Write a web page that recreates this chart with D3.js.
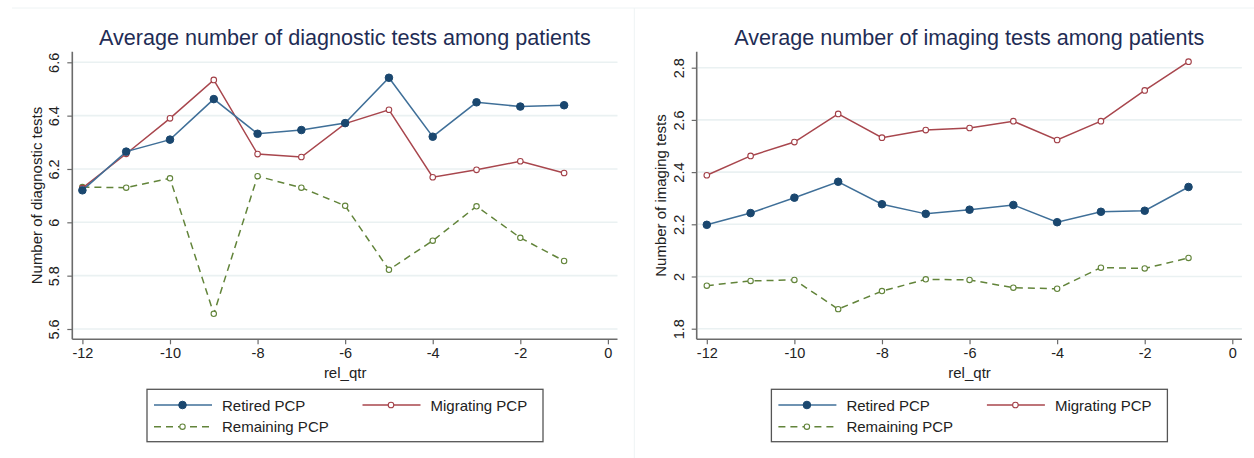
<!DOCTYPE html>
<html>
<head>
<meta charset="utf-8">
<script src="https://cdn.jsdelivr.net/npm/d3@7"></script>
<style>
  body { margin: 0; background: #fff; }
  svg text { font-family: "Liberation Sans", Arial, sans-serif; }
</style>
</head>
<body>
<div id="chart"></div>
<script>
// quarters relative to the event
var quarters = [-12, -11, -10, -9, -8, -7, -6, -5, -4, -3, -2, -1];
var xTicks = [-12, -10, -8, -6, -4, -2, 0];

// diagnostic tests
var diagRetired   = [6.12, 6.265, 6.31, 6.462, 6.332, 6.346, 6.372, 6.542, 6.321, 6.45, 6.434, 6.439];
var diagMigrating = [6.128, 6.257, 6.39, 6.534, 6.256, 6.245, 6.37, 6.422, 6.169, 6.197, 6.229, 6.185];
var diagRemaining = [6.132, 6.13, 6.165, 5.657, 6.173, 6.13, 6.062, 5.822, 5.931, 6.06, 5.942, 5.855];
var diagTicks = [5.6, 5.8, 6, 6.2, 6.4, 6.6];

// imaging tests
var imgRetired   = [2.198, 2.243, 2.302, 2.363, 2.277, 2.24, 2.256, 2.274, 2.208, 2.248, 2.252, 2.343];
var imgMigrating = [2.388, 2.462, 2.515, 2.623, 2.532, 2.561, 2.569, 2.595, 2.523, 2.595, 2.713, 2.823];
var imgRemaining = [1.965, 1.983, 1.987, 1.875, 1.944, 1.989, 1.987, 1.957, 1.953, 2.034, 2.031, 2.071];
var imgTicks = [1.8, 2, 2.2, 2.4, 2.6, 2.8];

var seriesNames = ["Retired PCP", "Migrating PCP", "Remaining PCP"];

var W = 1254, H = 458;

var svg = d3.select("#chart")
  .append("svg")
  .attr("width", W)
  .attr("height", H);

// styles for each series
var styles = [
  { line: "#3f6f98", marker: "#1a476f", fill: "#1a476f", r: 3.8, dash: null, mw: 1 },
  { line: "#a8464d", marker: "#a23f47", fill: "#fff", r: 2.8, dash: null, mw: 1.1 },
  { line: "#62843a", marker: "#62843a", fill: "#fff", r: 2.7, dash: "7,5", mw: 1.1 }
];

function drawPanel(ox, title, ytitle, yTicks, yDom, yRange, series) {
  var g = svg.append("g").attr("transform", "translate(" + ox + ",0)");

  var left = 72.3, right = 617.5, top = 51.7, bottom = 339.3;

  var x = d3.scaleLinear().domain([-12, 0]).range([82.4, 607.9]);
  var y = d3.scaleLinear().domain(yDom).range(yRange);

  // gridlines
  g.selectAll(".grid")
    .data(yTicks)
    .enter()
    .append("line")
    .attr("x1", left + 1)
    .attr("x2", right)
    .attr("y1", function (d) { return y(d); })
    .attr("y2", function (d) { return y(d); })
    .style("stroke", "#eaf1f2")
    .style("stroke-width", 1.6);

  // axes
  var xAxis = g.append("g")
    .attr("transform", "translate(0," + bottom + ")")
    .call(d3.axisBottom(x).tickValues(xTicks).tickSize(5).tickFormat(function (d) { return String(d); }));
  xAxis.select(".domain").attr("d", "M" + left + ",0H" + right);

  var yAxis = g.append("g")
    .attr("transform", "translate(" + left + ",0)")
    .call(d3.axisLeft(y).tickValues(yTicks).tickSize(5).tickFormat(function (d) { return String(d); }));
  yAxis.select(".domain").attr("d", "M0," + top + "V" + bottom);

  [xAxis, yAxis].forEach(function (a) {
    a.select(".domain").style("stroke", "#6b6b6b").style("stroke-width", 1.6);
    a.selectAll(".tick line").style("stroke", "#6b6b6b").style("stroke-width", 1.2);
    a.selectAll(".tick text")
      .style("font-size", "14.5px")
      .style("fill", "#222")
      .style("font-family", "'Liberation Sans', Arial, sans-serif");
  });
  xAxis.selectAll(".tick text").attr("y", 8);

  yAxis.selectAll(".tick text")
    .attr("x", null)
    .attr("dy", null)
    .attr("text-anchor", "middle")
    .attr("transform", "translate(-13,0) rotate(-90)")
    .attr("dy", "0");

  // titles
  g.append("text")
    .attr("x", (left + right) / 2)
    .attr("y", 45)
    .attr("text-anchor", "middle")
    .style("font-size", "21.6px")
    .style("fill", "#1f2d55")
    .text(title);

  g.append("text")
    .attr("x", (x(-12) + x(0)) / 2)
    .attr("y", 378)
    .attr("text-anchor", "middle")
    .style("font-size", "15px")
    .style("fill", "#222")
    .text("rel_qtr");

  g.append("text")
    .attr("transform", "translate(42," + ((top + bottom) / 2) + ") rotate(-90)")
    .attr("text-anchor", "middle")
    .style("font-size", "15px")
    .style("fill", "#222")
    .text(ytitle);

  // lines and markers
  var line = d3.line()
    .x(function (d, i) { return x(quarters[i]); })
    .y(function (d) { return y(d); });

  // draw remaining first, then migrating, then retired on top
  [2, 1, 0].forEach(function (k) {
    var s = styles[k];
    g.append("path")
      .datum(series[k])
      .attr("d", line)
      .style("fill", "none")
      .style("stroke", s.line)
      .style("stroke-width", 1.5)
      .style("stroke-dasharray", s.dash);

    g.selectAll(".m" + k)
      .data(series[k])
      .enter()
      .append("circle")
      .attr("cx", function (d, i) { return x(quarters[i]); })
      .attr("cy", function (d) { return y(d); })
      .attr("r", s.r)
      .style("fill", s.fill)
      .style("stroke", s.marker)
      .style("stroke-width", s.mw);
  });

  // legend
  var lx = 147, ly = 389.3, lw = 396, lh = 52.4;
  var lg = g.append("g");
  lg.append("rect")
    .attr("x", lx)
    .attr("y", ly)
    .attr("width", lw)
    .attr("height", lh)
    .style("fill", "#fff")
    .style("stroke", "#555")
    .style("stroke-width", 1.3);

  var items = [
    { k: 0, x: lx, y: 405 },
    { k: 1, x: lx + 208.5, y: 405 },
    { k: 2, x: lx, y: 426.7 }
  ];
  items.forEach(function (it) {
    var s = styles[it.k];
    lg.append("line")
      .attr("x1", it.x + 7)
      .attr("x2", it.x + 65)
      .attr("y1", it.y)
      .attr("y2", it.y)
      .style("stroke", s.line)
      .style("stroke-width", 1.5)
      .style("stroke-dasharray", s.dash);
    lg.append("circle")
      .attr("cx", it.x + 35.5)
      .attr("cy", it.y)
      .attr("r", s.r)
      .style("fill", s.fill)
      .style("stroke", s.marker)
      .style("stroke-width", s.mw);
    lg.append("text")
      .attr("x", it.x + 75)
      .attr("y", it.y + 5.5)
      .style("font-size", "15px")
      .style("fill", "#222")
      .text(seriesNames[it.k]);
  });
}

// faint panel borders
svg.append("line").attr("x1", 12).attr("x2", W).attr("y1", 8).attr("y2", 8)
  .style("stroke", "#eef3f4").style("stroke-width", 1);
svg.append("line").attr("x1", 634.3).attr("x2", 634.3).attr("y1", 8).attr("y2", H)
  .style("stroke", "#eef3f4").style("stroke-width", 1);

drawPanel(0, "Average number of diagnostic tests among patients", "Number of diagnostic tests",
  diagTicks, [5.6, 6.6], [329, 62.3], [diagRetired, diagMigrating, diagRemaining]);

drawPanel(624.4, "Average number of imaging tests among patients", "Number of imaging tests",
  imgTicks, [1.8, 2.8], [328.7, 67.7], [imgRetired, imgMigrating, imgRemaining]);
</script>
</body>
</html>
